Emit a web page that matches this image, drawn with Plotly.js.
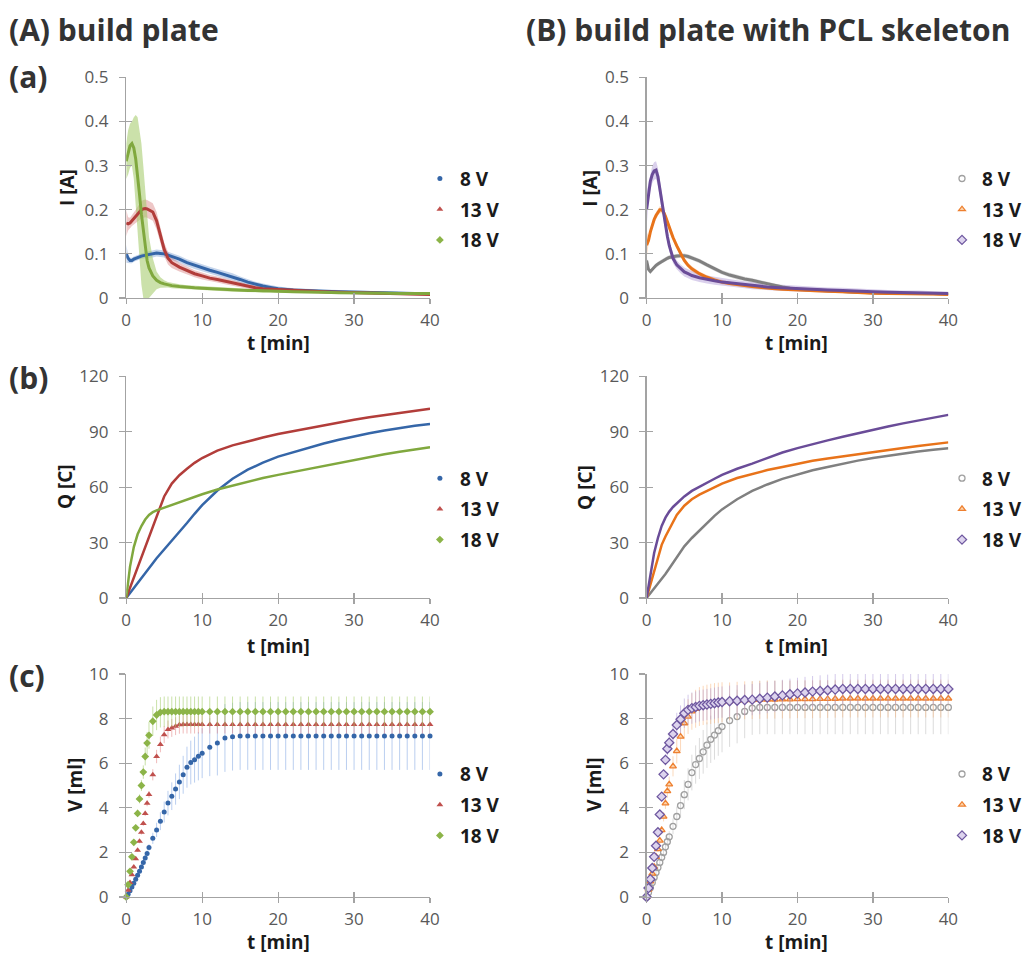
<!DOCTYPE html>
<html><head><meta charset="utf-8">
<script src="https://cdn.plot.ly/plotly-3.0.1.min.js"></script>
<style>html,body{margin:0;padding:0;background:#fff}#chart{width:1027px;height:956px}</style>
</head><body><div id="chart"></div>
<script>
// ================= DATA =================
const seriesNames = ['8 V', '13 V', '18 V'];
const panelTitles = ['(A) build plate', '(B) build plate with PCL skeleton'];
const rowLabels = ['(a)', '(b)', '(c)'];
const xTitle = 't [min]';
const yTitles = ['I [A]', 'Q [C]', 'V [ml]'];

// (a) current I [A] vs time, mean and spread
const tI = [0,0.25,0.5,0.75,1,1.25,1.5,1.75,2,2.25,2.5,2.75,3,3.5,4,4.5,5,5.5,6,7,8,9,10,11,12,13,14,15,16,17,18,19,20,22,24,26,28,30,32,34,36,38,40];
// build plate
const iA_8V  = [0.100,0.090,0.085,0.085,0.088,0.090,0.092,0.093,0.095,0.096,0.097,0.098,0.099,0.100,0.102,0.101,0.100,0.097,0.094,0.088,0.080,0.074,0.068,0.063,0.058,0.053,0.048,0.042,0.036,0.031,0.027,0.024,0.021,0.018,0.016,0.015,0.014,0.013,0.012,0.011,0.011,0.010,0.010];
const iA_8V_sd  = [0.020,0.010,0.006,0.006,0.006,0.006,0.006,0.006,0.006,0.006,0.007,0.007,0.007,0.008,0.008,0.008,0.008,0.008,0.008,0.008,0.008,0.008,0.008,0.008,0.008,0.008,0.008,0.007,0.007,0.006,0.006,0.005,0.005,0.004,0.004,0.004,0.004,0.004,0.003,0.003,0.003,0.003,0.003];
const iA_13V = [0.170,0.168,0.170,0.175,0.180,0.185,0.190,0.195,0.200,0.202,0.203,0.202,0.200,0.195,0.175,0.140,0.110,0.090,0.080,0.070,0.062,0.055,0.050,0.045,0.042,0.038,0.034,0.030,0.026,0.023,0.021,0.020,0.019,0.017,0.015,0.014,0.013,0.012,0.011,0.010,0.010,0.009,0.008];
const iA_13V_sd = [0.030,0.015,0.012,0.012,0.014,0.015,0.016,0.018,0.020,0.020,0.020,0.020,0.020,0.020,0.020,0.018,0.016,0.014,0.012,0.010,0.009,0.008,0.008,0.007,0.007,0.007,0.006,0.006,0.005,0.005,0.005,0.004,0.004,0.004,0.004,0.004,0.003,0.003,0.003,0.003,0.003,0.003,0.003];
const iA_18V = [0.310,0.330,0.345,0.350,0.340,0.315,0.280,0.235,0.190,0.150,0.115,0.085,0.068,0.050,0.040,0.035,0.032,0.030,0.028,0.026,0.024,0.023,0.022,0.021,0.020,0.019,0.018,0.018,0.017,0.017,0.016,0.016,0.015,0.014,0.014,0.013,0.012,0.012,0.011,0.011,0.010,0.010,0.010];
const iA_18V_sd = [0.040,0.050,0.050,0.050,0.070,0.100,0.130,0.150,0.160,0.150,0.130,0.100,0.070,0.040,0.020,0.012,0.008,0.006,0.006,0.005,0.005,0.005,0.004,0.004,0.004,0.004,0.004,0.004,0.004,0.004,0.004,0.003,0.003,0.003,0.003,0.003,0.003,0.003,0.003,0.003,0.003,0.003,0.003];
// build plate with PCL skeleton
const iB_8V  = [0.085,0.065,0.060,0.065,0.070,0.074,0.077,0.080,0.083,0.086,0.088,0.090,0.092,0.094,0.095,0.096,0.096,0.094,0.091,0.084,0.075,0.066,0.058,0.052,0.047,0.043,0.040,0.036,0.032,0.028,0.025,0.022,0.020,0.018,0.016,0.015,0.013,0.012,0.011,0.011,0.010,0.010,0.009];
const iB_8V_sd  = [0.010,0.006,0.005,0.005,0.005,0.005,0.005,0.005,0.005,0.005,0.005,0.005,0.005,0.005,0.005,0.005,0.005,0.005,0.005,0.005,0.005,0.005,0.005,0.005,0.005,0.005,0.005,0.005,0.005,0.004,0.004,0.004,0.004,0.004,0.004,0.003,0.003,0.003,0.003,0.003,0.003,0.003,0.003];
const iB_13V = [0.120,0.130,0.150,0.165,0.178,0.187,0.195,0.200,0.200,0.195,0.185,0.172,0.158,0.137,0.118,0.100,0.085,0.074,0.066,0.055,0.047,0.041,0.036,0.033,0.030,0.028,0.026,0.024,0.022,0.021,0.020,0.019,0.018,0.016,0.015,0.014,0.012,0.011,0.010,0.010,0.009,0.009,0.008];
const iB_13V_sd = [0.030,0.010,0.008,0.008,0.008,0.008,0.008,0.008,0.008,0.008,0.008,0.008,0.008,0.008,0.007,0.007,0.006,0.006,0.006,0.005,0.005,0.005,0.005,0.004,0.004,0.004,0.004,0.004,0.004,0.004,0.004,0.003,0.003,0.003,0.003,0.003,0.003,0.003,0.003,0.003,0.003,0.003,0.003];
const iB_18V = [0.200,0.240,0.265,0.280,0.288,0.290,0.275,0.248,0.218,0.190,0.164,0.140,0.119,0.090,0.075,0.066,0.059,0.055,0.051,0.046,0.042,0.039,0.036,0.034,0.032,0.030,0.028,0.027,0.025,0.024,0.023,0.022,0.021,0.019,0.018,0.017,0.015,0.014,0.013,0.012,0.012,0.011,0.010];
const iB_18V_sd = [0.040,0.020,0.020,0.020,0.020,0.020,0.020,0.020,0.018,0.016,0.015,0.013,0.012,0.011,0.010,0.010,0.010,0.010,0.010,0.010,0.009,0.009,0.009,0.009,0.008,0.008,0.008,0.008,0.008,0.007,0.007,0.007,0.007,0.006,0.006,0.006,0.006,0.005,0.005,0.005,0.005,0.004,0.004];

// (b) charge Q [C] vs time
const tQ = [0,0.5,1,1.5,2,2.5,3,3.5,4,5,6,7,8,9,10,12,14,16,18,20,22,24,26,28,30,32,34,36,38,40];
const qA_8V  = [0,2.6,5.3,8.0,10.8,13.5,16.2,18.8,21.5,26.2,30.8,35.6,40.6,45.6,50.3,58.2,64.6,69.5,73.3,76.6,79.1,81.5,83.7,85.7,87.6,89.2,90.7,92.1,93.3,94.3];
const qA_13V = [0,5.5,11.0,16.7,22.5,28.2,34.0,39.5,45.0,55.0,62.0,66.5,70.0,73.2,75.8,79.8,82.7,85.0,86.9,88.8,90.4,92.0,93.6,95.1,96.5,97.9,99.1,100.3,101.4,102.5];
const qA_18V = [0,17.0,27.6,34.5,39.0,42.5,45.0,46.5,47.5,49.0,50.4,51.8,53.3,54.8,56.2,58.8,61.0,63.1,65.0,66.7,68.3,70.0,71.8,73.4,75.0,76.5,77.9,79.2,80.5,81.7];
const qB_8V  = [0,2.5,5.0,7.6,10.3,13.0,16.0,19.0,22.2,28.0,32.5,36.5,40.8,44.5,48.0,53.5,58.0,61.5,64.5,67.0,69.2,71.0,72.8,74.4,75.8,77.1,78.3,79.4,80.3,81.1];
const qB_13V = [0,7.0,15.3,22.0,28.8,33.3,37.5,41.5,45.0,50.0,53.5,56.0,58.0,60.0,62.0,65.0,67.3,69.3,71.0,72.7,74.3,75.6,76.8,78.0,79.2,80.2,81.3,82.3,83.3,84.3];
const qB_18V = [0,12.5,24.4,32.5,39.0,43.5,46.8,49.3,51.2,55.0,58.0,60.3,62.5,64.6,66.7,70.0,72.8,75.9,78.8,81.2,83.5,85.4,87.3,89.3,91.2,92.9,94.6,96.2,97.7,99.2];

// (c) gas volume V [ml] vs time, mean and error
const tV = [0,0.25,0.5,0.75,1,1.25,1.5,1.75,2,2.25,2.5,2.75,3,3.5,4,4.5,5,5.5,6,6.5,7,7.5,8,8.5,9,9.5,10,11,12,13,14,15,16,17,18,19,20,21,22,23,24,25,26,27,28,29,30,31,32,33,34,35,36,37,38,39,40];
const vA_8V  = [0,0.12,0.28,0.45,0.62,0.80,0.98,1.15,1.35,1.55,1.75,1.95,2.22,2.63,3.01,3.40,3.81,4.21,4.52,4.84,5.16,5.48,5.82,6.03,6.16,6.31,6.45,6.72,6.90,7.13,7.19,7.22,7.22,7.22,7.22,7.22,7.22,7.22,7.22,7.22,7.22,7.22,7.22,7.22,7.22,7.22,7.22,7.22,7.22,7.22,7.22,7.22,7.22,7.22,7.22,7.22,7.22];
const vA_8V_err  = [0,0.04,0.05,0.06,0.07,0.08,0.09,0.10,0.11,0.12,0.13,0.14,0.15,0.25,0.32,0.40,0.47,0.55,0.62,0.70,0.77,0.85,0.92,0.98,1.03,1.08,1.12,1.30,1.45,1.52,1.52,1.52,1.52,1.52,1.52,1.52,1.52,1.52,1.52,1.52,1.52,1.52,1.52,1.52,1.52,1.52,1.52,1.52,1.52,1.52,1.52,1.52,1.52,1.52,1.52,1.52,1.52];
const vA_13V = [0,0.30,0.65,1.00,1.35,1.72,2.10,2.50,2.90,3.30,3.75,4.20,4.60,5.48,6.30,6.84,7.28,7.51,7.58,7.66,7.72,7.73,7.73,7.73,7.73,7.73,7.73,7.73,7.73,7.73,7.73,7.73,7.73,7.73,7.73,7.73,7.73,7.73,7.73,7.73,7.73,7.73,7.73,7.73,7.73,7.73,7.73,7.73,7.73,7.73,7.73,7.73,7.73,7.73,7.73,7.73,7.73];
const vA_13V_err = [0,0.03,0.04,0.05,0.06,0.07,0.08,0.09,0.10,0.11,0.12,0.13,0.15,0.25,0.30,0.35,0.38,0.40,0.40,0.40,0.40,0.40,0.40,0.40,0.40,0.40,0.40,0.40,0.40,0.40,0.40,0.40,0.40,0.40,0.40,0.40,0.40,0.40,0.40,0.40,0.40,0.40,0.40,0.40,0.40,0.40,0.40,0.40,0.40,0.40,0.40,0.40,0.40,0.40,0.40,0.40,0.40];
const vA_18V = [0,0.55,1.15,1.80,2.45,3.10,3.75,4.40,5.00,5.60,6.30,6.90,7.25,7.88,8.16,8.28,8.31,8.31,8.31,8.31,8.31,8.31,8.31,8.31,8.31,8.31,8.31,8.31,8.31,8.31,8.31,8.31,8.31,8.31,8.31,8.31,8.31,8.31,8.31,8.31,8.31,8.31,8.31,8.31,8.31,8.31,8.31,8.31,8.31,8.31,8.31,8.31,8.31,8.31,8.31,8.31,8.31];
const vA_18V_err = [0,0.05,0.07,0.09,0.11,0.13,0.16,0.20,0.25,0.30,0.40,0.50,0.60,0.66,0.68,0.68,0.68,0.68,0.68,0.68,0.68,0.68,0.68,0.68,0.68,0.68,0.68,0.68,0.68,0.68,0.68,0.68,0.68,0.68,0.68,0.68,0.68,0.68,0.68,0.68,0.68,0.68,0.68,0.68,0.68,0.68,0.68,0.68,0.68,0.68,0.68,0.68,0.68,0.68,0.68,0.68,0.68];
const vB_8V  = [0,0.20,0.42,0.65,0.88,1.10,1.32,1.55,1.78,2.00,2.25,2.48,2.70,3.17,3.61,4.10,4.59,5.05,5.58,5.94,6.21,6.51,6.81,7.07,7.26,7.46,7.64,7.91,8.09,8.32,8.47,8.50,8.50,8.50,8.50,8.50,8.50,8.50,8.50,8.50,8.50,8.50,8.50,8.50,8.50,8.50,8.50,8.50,8.50,8.50,8.50,8.50,8.50,8.50,8.50,8.50,8.50];
const vB_8V_err  = [0,0.03,0.05,0.07,0.09,0.11,0.13,0.15,0.17,0.19,0.21,0.23,0.25,0.35,0.45,0.55,0.65,0.72,0.80,0.86,0.92,0.98,1.02,1.06,1.10,1.13,1.15,1.18,1.20,1.20,1.20,1.20,1.20,1.20,1.20,1.20,1.20,1.20,1.20,1.20,1.20,1.20,1.20,1.20,1.20,1.20,1.20,1.20,1.20,1.20,1.20,1.20,1.20,1.20,1.20,1.20,1.20];
const vB_13V = [0,0.33,0.70,1.05,1.35,1.80,2.15,2.53,3.00,3.60,4.20,4.75,5.05,5.86,6.54,7.19,7.79,8.09,8.32,8.44,8.54,8.59,8.63,8.66,8.69,8.71,8.73,8.77,8.80,8.82,8.83,8.84,8.85,8.85,8.86,8.86,8.87,8.87,8.87,8.88,8.88,8.89,8.90,8.90,8.90,8.90,8.90,8.90,8.90,8.90,8.90,8.90,8.90,8.90,8.90,8.90,8.90];
const vB_13V_err = [0,0.03,0.05,0.07,0.09,0.11,0.13,0.15,0.18,0.21,0.25,0.30,0.35,0.45,0.55,0.65,0.72,0.78,0.82,0.85,0.87,0.88,0.89,0.90,0.90,0.90,0.90,0.85,0.85,0.85,0.85,0.85,0.85,0.85,0.85,0.85,0.85,0.85,0.85,0.85,0.85,0.85,0.85,0.85,0.85,0.85,0.85,0.85,0.85,0.85,0.85,0.85,0.85,0.85,0.85,0.85,0.85];
const vB_18V = [0,0.40,0.80,1.30,1.80,2.30,2.90,3.70,4.50,5.50,6.15,6.65,6.92,7.31,7.71,7.97,8.24,8.39,8.47,8.52,8.57,8.60,8.63,8.66,8.69,8.72,8.74,8.78,8.80,8.83,8.85,8.89,8.94,8.99,9.04,9.09,9.13,9.17,9.21,9.24,9.27,9.30,9.33,9.33,9.33,9.33,9.33,9.33,9.33,9.33,9.33,9.33,9.33,9.33,9.33,9.33,9.33];
const vB_18V_err = [0,0.03,0.05,0.07,0.09,0.11,0.13,0.15,0.18,0.21,0.25,0.30,0.35,0.45,0.55,0.62,0.66,0.68,0.70,0.70,0.70,0.70,0.70,0.70,0.70,0.70,0.70,0.70,0.70,0.70,0.70,0.70,0.70,0.70,0.70,0.70,0.70,0.70,0.70,0.70,0.70,0.70,0.70,0.70,0.70,0.70,0.70,0.70,0.70,0.70,0.70,0.70,0.70,0.70,0.70,0.70,0.70];

// axis tick settings
const xRange = [0, 40], xStep = 10;
const yRanges = [[0, 0.5], [0, 120], [0, 10]];
const ySteps = [0.1, 30, 2];

// ================= STYLE =================
const FONT = '"Open Sans", "Liberation Sans", sans-serif';
const AX = '#a3a3a3';
const TICKC = '#595959';
const TXT = '#1a1a1a';
const colA = {c8: '#3566a8', c13: '#b23d3a', c18: '#80a83e'};
const colB = {c8: '#808080', c13: '#e8731a', c18: '#6a4c98'};
const symA = [
  {symbol:'circle', size:5, color:colA.c8},
  {symbol:'triangle-up', size:6, color:'#c0504d'},
  {symbol:'diamond', size:6, color:'#8cb448'}
];
const symB = [
  {symbol:'circle-open', size:6, color:'#a0a0a0', line:{width:1.3, color:'#a0a0a0'}},
  {symbol:'triangle-up', size:6, color:'#fcd3ab', line:{width:1.3, color:'#ee8030'}},
  {symbol:'diamond', size:7, color:'#ddd4ee', line:{width:1.3, color:'#6f58a0'}}
];

const colDom = [[0.1246, 0.4245], [0.6383, 0.9362]];
const rowDom = [[0.6883, 0.9190], [0.3745, 0.6062], [0.0617, 0.2950]];

// axis-title positions in pixels (centre)
const xTitleX = [282, 808];
const xTitleY = [343, 646, 942];
const yTitleX = [[68, 598], [66, 593], [76, 602]];
const yTitleY = [188, 487, 785];

const layout = {
  width: 1027, height: 956,
  margin: {l:0, r:0, t:0, b:0},
  paper_bgcolor: '#fff', plot_bgcolor: '#fff',
  showlegend: true,
  font: {family: FONT, color: TXT},
  annotations: []
};

const ann = (text, xpx, ypx, size, opts) => Object.assign({
  text, x: xpx / 1027, y: 1 - ypx / 956, xref: 'paper', yref: 'paper',
  xanchor: 'left', yanchor: 'middle', showarrow: false,
  font: {family: FONT, size, color: '#333333', weight: 700}
}, opts || {});

for (let row = 0; row < 3; row++) {
  for (let col = 0; col < 2; col++) {
    const n = row * 2 + col + 1;
    const sfx = n === 1 ? '' : String(n);
    const ov = n + 6;
    layout['xaxis' + sfx] = {
      domain: colDom[col], anchor: 'y' + sfx, range: xRange, dtick: xStep, tick0: 0,
      ticks: 'outside', ticklen: 5, tickwidth: 1.2, tickcolor: AX, ticklabelstandoff: 1,
      showline: true, linecolor: AX, linewidth: 1.3, showgrid: false, zeroline: false,
      tickfont: {family: FONT, size: 17, color: TICKC}
    };
    layout['yaxis' + sfx] = {
      domain: rowDom[row], anchor: 'x' + sfx, range: yRanges[row], dtick: ySteps[row], tick0: 0,
      ticks: 'outside', ticklen: 6, tickwidth: 1.2, tickcolor: AX, ticklabelstandoff: 7,
      showline: true, linecolor: AX, linewidth: 1.3, showgrid: false, zeroline: false,
      tickfont: {family: FONT, size: 17, color: TICKC}
    };
    // overlay axes giving the crossing tick marks
    layout['xaxis' + ov] = {
      overlaying: 'x' + sfx, anchor: 'y' + sfx, side: 'bottom', range: xRange, dtick: xStep, tick0: 0,
      ticks: 'inside', ticklen: 5, tickwidth: 1.2, tickcolor: AX, showticklabels: false,
      showline: false, showgrid: false, zeroline: false
    };
    layout['yaxis' + ov] = {
      overlaying: 'y' + sfx, anchor: 'x' + sfx, side: 'left', range: yRanges[row], dtick: ySteps[row], tick0: 0,
      ticks: 'inside', ticklen: 6, tickwidth: 1.2, tickcolor: AX, showticklabels: false,
      showline: false, showgrid: false, zeroline: false
    };
    // axis titles
    layout.annotations.push(ann(xTitle, xTitleX[col], xTitleY[row], 19,
      {xanchor: 'center', font: {family: FONT, size: 19, color: TXT, weight: 700}}));
    layout.annotations.push(ann(yTitles[row], yTitleX[row][col], yTitleY[row], 19,
      {xanchor: 'center', textangle: -90, font: {family: FONT, size: 19, color: TXT, weight: 700}}));

    const lid = n === 1 ? 'legend' : 'legend' + n;
    const legX = col === 0 ? 0.4145 : 0.9302;
    const legTop = [0.8330, 0.5195, 0.2101][row];
    layout[lid] = {
      x: legX, y: legTop, xanchor: 'left', yanchor: 'top',
      bgcolor: 'rgba(0,0,0,0)', borderwidth: 0,
      traceorder: 'grouped', tracegroupgap: 3, itemwidth: 30,
      font: {family: FONT, size: 19, color: TXT, weight: 700}
    };
  }
}

layout.annotations.push(ann(panelTitles[0], 7, 29, 30));
layout.annotations.push(ann(panelTitles[1], 531, 29, 30));
layout.annotations.push(ann(rowLabels[0], 7, 76, 30));
layout.annotations.push(ann(rowLabels[1], 7, 377, 30));
layout.annotations.push(ann(rowLabels[2], 7, 675, 30));

// ================= TRACES =================
const traces = [];
const axes = n => ({xaxis: n === 1 ? 'x' : 'x' + n, yaxis: n === 1 ? 'y' : 'y' + n});
const lid = n => (n === 1 ? 'legend' : 'legend' + n);

function band(t, m, s, n, color) {
  const up = m.map((v, i) => v + s[i]);
  const lo = m.map((v, i) => Math.max(0, v - s[i]));
  return Object.assign({
    type: 'scatter', mode: 'lines', x: t.concat(t.slice().reverse()),
    y: up.concat(lo.slice().reverse()), fill: 'toself', fillcolor: color,
    line: {width: 0}, hoverinfo: 'skip', showlegend: false
  }, axes(n));
}
function line(t, m, n, color, width) {
  return Object.assign({
    type: 'scatter', mode: 'lines', x: t, y: m, showlegend: false,
    line: {color, width}
  }, axes(n));
}
function legendOnly(name, sym, n, k) {
  return Object.assign({
    type: 'scatter', mode: 'markers', x: [null], y: [null], name,
    marker: sym, legend: lid(n), legendgroup: 'g' + n + '_' + k, showlegend: true
  }, axes(n));
}

// (a) left
traces.push(band(tI, iA_8V, iA_8V_sd, 1, 'rgba(90,135,200,0.35)'));
traces.push(band(tI, iA_13V, iA_13V_sd, 1, 'rgba(205,95,95,0.35)'));
traces.push(band(tI, iA_18V, iA_18V_sd, 1, 'rgba(160,200,100,0.55)'));
traces.push(line(tI, iA_8V, 1, colA.c8, 3));
traces.push(line(tI, iA_13V, 1, colA.c13, 3));
traces.push(line(tI, iA_18V, 1, colA.c18, 3));
// (a) right
traces.push(band(tI, iB_8V, iB_8V_sd, 2, 'rgba(150,150,150,0.35)'));
traces.push(band(tI, iB_13V, iB_13V_sd, 2, 'rgba(245,160,90,0.35)'));
traces.push(band(tI, iB_18V, iB_18V_sd, 2, 'rgba(150,120,200,0.35)'));
traces.push(line(tI, iB_8V, 2, colB.c8, 3));
traces.push(line(tI, iB_13V, 2, colB.c13, 3));
traces.push(line(tI, iB_18V, 2, colB.c18, 3));
// (b)
traces.push(line(tQ, qA_8V, 3, colA.c8, 2.5));
traces.push(line(tQ, qA_13V, 3, colA.c13, 2.5));
traces.push(line(tQ, qA_18V, 3, colA.c18, 2.5));
traces.push(line(tQ, qB_8V, 4, colB.c8, 2.5));
traces.push(line(tQ, qB_13V, 4, colB.c13, 2.5));
traces.push(line(tQ, qB_18V, 4, colB.c18, 2.5));
// legends for (a) and (b)
[1, 3].forEach(n => seriesNames.forEach((nm, k) => traces.push(legendOnly(nm, symA[k], n, k))));
[2, 4].forEach(n => seriesNames.forEach((nm, k) => traces.push(legendOnly(nm, symB[k], n, k))));

// (c)
function pts(t, v, e, n, k, sym, ecolor) {
  return Object.assign({
    type: 'scatter', mode: 'markers', x: t, y: v, name: seriesNames[k],
    marker: sym, cliponaxis: false,
    error_y: {type: 'data', array: e, visible: true, color: ecolor, thickness: 1, width: 0},
    legend: lid(n), legendgroup: 'g' + n + '_' + k
  }, axes(n));
}
traces.push(pts(tV, vA_8V, vA_8V_err, 5, 0, symA[0], 'rgba(120,160,225,0.5)'));
traces.push(pts(tV, vA_13V, vA_13V_err, 5, 1, symA[1], 'rgba(225,120,120,0.5)'));
traces.push(pts(tV, vA_18V, vA_18V_err, 5, 2, symA[2], 'rgba(165,205,110,0.6)'));
traces.push(pts(tV, vB_8V, vB_8V_err, 6, 0, symB[0], 'rgba(185,185,185,0.5)'));
traces.push(pts(tV, vB_13V, vB_13V_err, 6, 1, symB[1], 'rgba(250,180,120,0.5)'));
traces.push(pts(tV, vB_18V, vB_18V_err, 6, 2, symB[2], 'rgba(170,150,215,0.5)'));

// empty traces that attach the tick-crossing overlay axes
for (let n = 1; n <= 6; n++) {
  const a = axes(n);
  traces.push({type: 'scatter', mode: 'markers', x: [null], y: [null], xaxis: 'x' + (n + 6), yaxis: a.yaxis, showlegend: false, hoverinfo: 'skip'});
  traces.push({type: 'scatter', mode: 'markers', x: [null], y: [null], xaxis: a.xaxis, yaxis: 'y' + (n + 6), showlegend: false, hoverinfo: 'skip'});
}

Plotly.newPlot('chart', traces, layout, {staticPlot: true, displayModeBar: false});
</script>
</body></html>
